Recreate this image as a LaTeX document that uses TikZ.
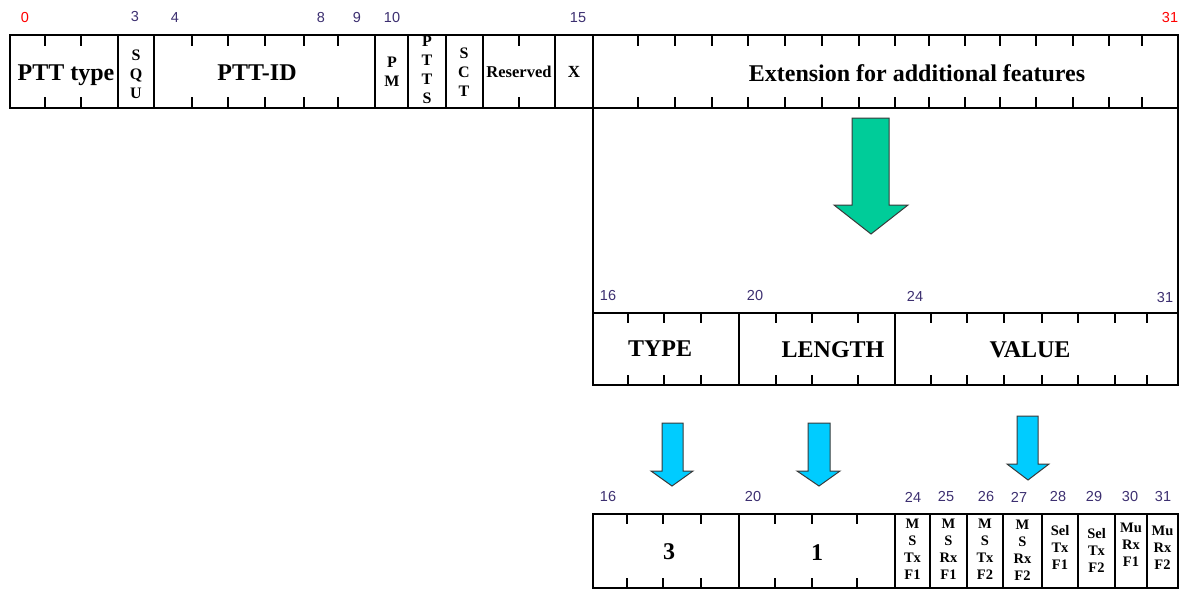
\documentclass[tikz,border=0pt]{standalone}
\usepackage{fontspec}
\setmainfont{Liberation Serif}
\newfontfamily\numfont{Liberation Sans}
\begin{document}
\begin{tikzpicture}[x=1pt,y=-1pt,
  boxline/.style={line width=2.4pt,line join=miter},
  thinline/.style={line width=1.2pt},
  tick/.style={line width=2pt},
  num/.style={font=\numfont\fontsize{14.5}{14.5}\selectfont,text=numc,inner sep=0pt},
  rednum/.style={num,text=red},
  big/.style={font=\bfseries\fontsize{24}{24}\selectfont,inner sep=0pt},
  vert/.style={font=\bfseries\fontsize{16}{19}\selectfont,align=center,inner sep=0pt},
  small/.style={font=\bfseries\fontsize{14.5}{17}\selectfont,align=center,inner sep=0pt},
  greenarrow/.style={fill=greenc,draw=arrowedge,line width=1pt,line join=miter},
  bluearrow/.style={fill=bluec,draw=arrowedge,line width=1pt,line join=miter}]
\definecolor{numc}{HTML}{3C2F70}
\definecolor{greenc}{HTML}{00CC99}
\definecolor{bluec}{HTML}{00CCFF}
\definecolor{arrowedge}{HTML}{3A3A3A}
\useasboundingbox (0,0) rectangle (1188,589);

% ---------- top row ----------
\draw[boxline] (10,35) rectangle (1178,108);
\foreach \x in {118,154,375,408,446,483,555,593}
  \draw[boxline] (\x,35) -- (\x,108);
\foreach \x in {45,81,192,228,265,304,338,519,638,675,712,748,785,822,859,895,929,965,1000,1036,1073,1109,1142}{
  \draw[tick] (\x,35) -- (\x,46);
  \draw[tick] (\x,97) -- (\x,108);}

\node[rednum] (n0) at (25,18) {0};
\node[num] (n3) at (135,17) {3};
\node[num] (n4) at (175,18) {4};
\node[num] (n8) at (321,18) {8};
\node[num] (n9) at (357,18) {9};
\node[num] (n10) at (392,18) {10};
\node[num] (n15) at (578,18) {15};
\node[rednum] (n31) at (1170,18) {31};

\node[big] (ptttype) at (66,75) {PTT type};
\node[vert] (squ) at (136,74) {S\\Q\\U};
\node[big] (pttid) at (257,73) {PTT-ID};
\node[vert] (pm) at (392,72) {P\\M};
\node[vert] (ptts) at (427,70) {P\\T\\T\\S};
\node[vert] (sct) at (464,72) {S\\C\\T};
\node[font=\bfseries\fontsize{16.5}{16.5}\selectfont,inner sep=0pt] (res) at (519,72) {Reserved};
\node[font=\bfseries\fontsize{17}{17}\selectfont,inner sep=0pt] (xx) at (574,72) {X};
\node[big] (ext) at (917,73) {Extension for additional features};

% frame lines
\coordinate (fl1) at (593,108);
\coordinate (fl2) at (593,313);
\coordinate (fr1) at (1178,108);
\coordinate (fr2) at (1178,313);
\draw[thinline] (fl1) -- (fl2);
\draw[thinline] (fr1) -- (fr2);

% green arrow
\draw[greenarrow] (852,118) -- (889,118) -- (889,205) -- (908,205) -- (871,234) -- (834,205) -- (852,205) -- cycle;

% ---------- TLV row ----------
\node[num] (m16) at (608,296) {16};
\node[num] (m20) at (755,296) {20};
\node[num] (m24) at (915,296) {24};
\node[num] (m31) at (1165,298) {31};
\draw[boxline] (593,313) rectangle (1178,385);
\draw[thinline] (739,313) -- (739,385);
\draw[thinline] (895,313) -- (895,385);
\foreach \x in {628,664,701,776,812,858,895,931,967,1004,1042,1078,1115,1147}{
  \draw[tick] (\x,313) -- (\x,323);
  \draw[tick] (\x,375) -- (\x,385);}
\node[big] (type) at (660,349) {TYPE};
\node[big] (length) at (833,350) {LENGTH};
\node[big] (value) at (1030,350) {VALUE};

% blue arrows
\draw[bluearrow] (662,423) -- (683,423) -- (683,471) -- (693,471) -- (672,486) -- (651,471) -- (662,471) -- cycle;
\draw[bluearrow] (808,423) -- (830,423) -- (830,471) -- (840,471) -- (819,486) -- (797,471) -- (808,471) -- cycle;
\draw[bluearrow] (1017,416) -- (1038,416) -- (1038,464) -- (1049,464) -- (1028,480) -- (1007,464) -- (1017,464) -- cycle;

% ---------- bottom row ----------
\node[num] (b16) at (608,497) {16};
\node[num] (b20) at (753,497) {20};
\node[num] (b24) at (913,497) {24};
\node[num] (b25) at (946,497) {25};
\node[num] (b26) at (986,497) {26};
\node[num] (b27) at (1019,497) {27};
\node[num] (b28) at (1058,497) {28};
\node[num] (b29) at (1094,497) {29};
\node[num] (b30) at (1130,497) {30};
\node[num] (b31) at (1163,497) {31};
\draw[boxline] (593,514) rectangle (1178,588);
\draw[thinline] (739,514) -- (739,588);
\foreach \x in {895,930,967,1003,1042,1078,1115,1147}
  \draw[boxline] (\x,514) -- (\x,588);
\foreach \x in {627,663,701,775,812,857}{
  \draw[tick] (\x,514) -- (\x,524);
  \draw[tick] (\x,578) -- (\x,588);}
\node[big] (three) at (669,552) {3};
\node[big] (one) at (817,553) {1};
\node[small] (c24) at (912.5,549) {M\\S\\Tx\\F1};
\node[small] (c25) at (948.5,549) {M\\S\\Rx\\F1};
\node[small] (c26) at (985,549) {M\\S\\Tx\\F2};
\node[small] (c27) at (1022.5,550) {M\\S\\Rx\\F2};
\node[small] (c28) at (1060,547) {Sel\\Tx\\F1};
\node[small] (c29) at (1096.5,550) {Sel\\Tx\\F2};
\node[small] (c30) at (1131,545) {Mu\\Rx\\F1};
\node[small] (c31) at (1162.5,548) {Mu\\Rx\\F2};
\end{tikzpicture}
\end{document}
